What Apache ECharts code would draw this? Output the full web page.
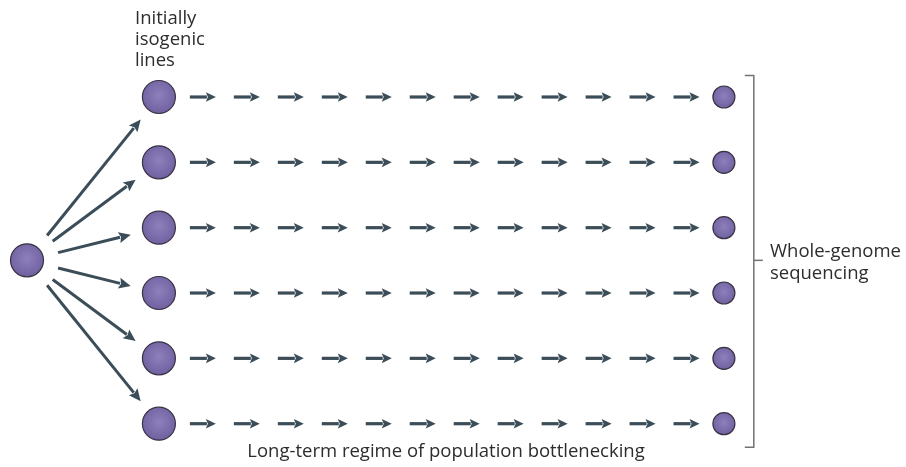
<!DOCTYPE html>
<html>
<head>
<meta charset="utf-8">
<script src="https://cdn.jsdelivr.net/npm/echarts@6/dist/echarts.min.js"></script>
<style>
  html, body { margin: 0; padding: 0; background: #fff; }
  #main { width: 906px; height: 467px; }
</style>
</head>
<body>
<div id="main"></div>
<script>
// rows = isogenic lines, x = generation step
var lineRows = [0, 1, 2, 3, 4, 5]
var arrowSteps = [1, 2, 3, 4, 5, 6, 7, 8, 9, 10, 11, 12]
var sourcePoint = [-3, 2.5]
var startStep = 0
var endStep = 12.85
var bracketSpan = [13.53, -0.33, 5.36]
var labelTop = ['Initially', 'isogenic', 'lines']
var labelRight = ['Whole-genome', 'sequencing']
var labelBottom = 'Long-term regime of population bottlenecking'

var arrowColor = '#3b4d58'
var textColor = '#2d2d2d'
var fontFam = '"Open Sans", "Noto Sans", sans-serif'

function ballFill () {
  return new echarts.graphic.RadialGradient(0.5, 0.45, 0.6, [
    { offset: 0, color: '#8d80bb' },
    { offset: 1, color: '#6c5c9d' }
  ])
}

var myChart = echarts.init(document.getElementById('main'))

var startBalls = lineRows.map(function (r) { return [startStep, r] })
var endBalls = lineRows.map(function (r) { return [endStep, r] })
var stepArrows = []
lineRows.forEach(function (r) {
  arrowSteps.forEach(function (s) { stepArrows.push([s, r]) })
})
var fanArrows = lineRows.map(function (r) { return [startStep, r] })

// 箭头: 线段 + 三角形
function arrowShape (x1, y1, x2, y2, headLen, headHalf, width) {
  var dx = x2 - x1
  var dy = y2 - y1
  var len = Math.sqrt(dx * dx + dy * dy)
  var ux = dx / len
  var uy = dy / len
  var bx = x2 - ux * headLen
  var by = y2 - uy * headLen
  return [
    {
      type: 'line',
      shape: { x1: x1, y1: y1, x2: bx + ux * 1, y2: by + uy * 1 },
      style: { stroke: arrowColor, lineWidth: width }
    },
    {
      type: 'polygon',
      shape: {
        points: [
          [x2, y2],
          [bx - uy * headHalf, by + ux * headHalf],
          [bx + ux * 2, by + uy * 2],
          [bx + uy * headHalf, by - ux * headHalf]
        ]
      },
      style: { fill: arrowColor }
    }
  ]
}

var option = {
  animation: false,
  grid: { left: 27, right: 175.5, top: 97, bottom: 43.3 },
  xAxis: { type: 'value', min: -3, max: 13, show: false },
  yAxis: { type: 'value', min: 0, max: 5, inverse: true, show: false },
  graphic: [
    {
      type: 'text', x: 135, y: 8,
      style: { text: labelTop.join('\n'), fill: textColor, font: '18.5px ' + fontFam, lineHeight: 21 }
    },
    {
      type: 'text', x: 770, y: 241,
      style: { text: labelRight.join('\n'), fill: textColor, font: '18.5px ' + fontFam, lineHeight: 22 }
    },
    {
      type: 'text', x: 446, y: 452,
      style: { text: labelBottom, fill: textColor, font: '18.5px ' + fontFam, align: 'center', verticalAlign: 'middle' }
    }
  ],
  series: [
    {
      type: 'custom',
      name: 'fan',
      data: fanArrows,
      renderItem: function (params, api) {
        var src = api.coord(sourcePoint)
        var tgt = api.coord([api.value(0), api.value(1)])
        var dx = tgt[0] - src[0]
        var dy = tgt[1] - src[1]
        var len = Math.sqrt(dx * dx + dy * dy)
        var ux = dx / len
        var uy = dy / len
        return {
          type: 'group',
          children: arrowShape(src[0] + ux * 32, src[1] + uy * 32, tgt[0] - ux * 29, tgt[1] - uy * 29, 12, 5.5, 3)
        }
      }
    },
    {
      type: 'custom',
      name: 'steps',
      data: stepArrows,
      renderItem: function (params, api) {
        var c = api.coord([api.value(0), api.value(1)])
        return {
          type: 'group',
          children: arrowShape(c[0] - 13, c[1], c[0] + 13, c[1], 10, 4.8, 3.2)
        }
      }
    },
    {
      type: 'custom',
      name: 'bracket',
      data: [bracketSpan],
      renderItem: function (params, api) {
        var top = api.coord([api.value(0), api.value(1)])
        var bot = api.coord([api.value(0), api.value(2)])
        var mid = api.coord([api.value(0), sourcePoint[1]])
        var st = { stroke: '#737373', lineWidth: 1.5, fill: null }
        return {
          type: 'group',
          children: [
            { type: 'polyline', shape: { points: [[top[0] - 9, top[1]], [top[0], top[1]], [bot[0], bot[1]], [bot[0] - 9, bot[1]]] }, style: st },
            { type: 'line', shape: { x1: mid[0], y1: mid[1], x2: mid[0] + 9, y2: mid[1] }, style: st }
          ]
        }
      }
    },
    {
      type: 'scatter',
      name: 'source',
      data: [sourcePoint],
      symbolSize: 33,
      itemStyle: { color: ballFill(), borderColor: '#3a3343', borderWidth: 1.2, opacity: 1 }
    },
    {
      type: 'scatter',
      name: 'start',
      data: startBalls,
      symbolSize: 33,
      itemStyle: { color: ballFill(), borderColor: '#3a3343', borderWidth: 1.2, opacity: 1 }
    },
    {
      type: 'scatter',
      name: 'end',
      data: endBalls,
      symbolSize: 22,
      itemStyle: { color: ballFill(), borderColor: '#3a3343', borderWidth: 1.2, opacity: 1 }
    }
  ]
}
myChart.setOption(option, true)
window.addEventListener('resize', function () {
  myChart.resize()
})
</script>
</body>
</html>
